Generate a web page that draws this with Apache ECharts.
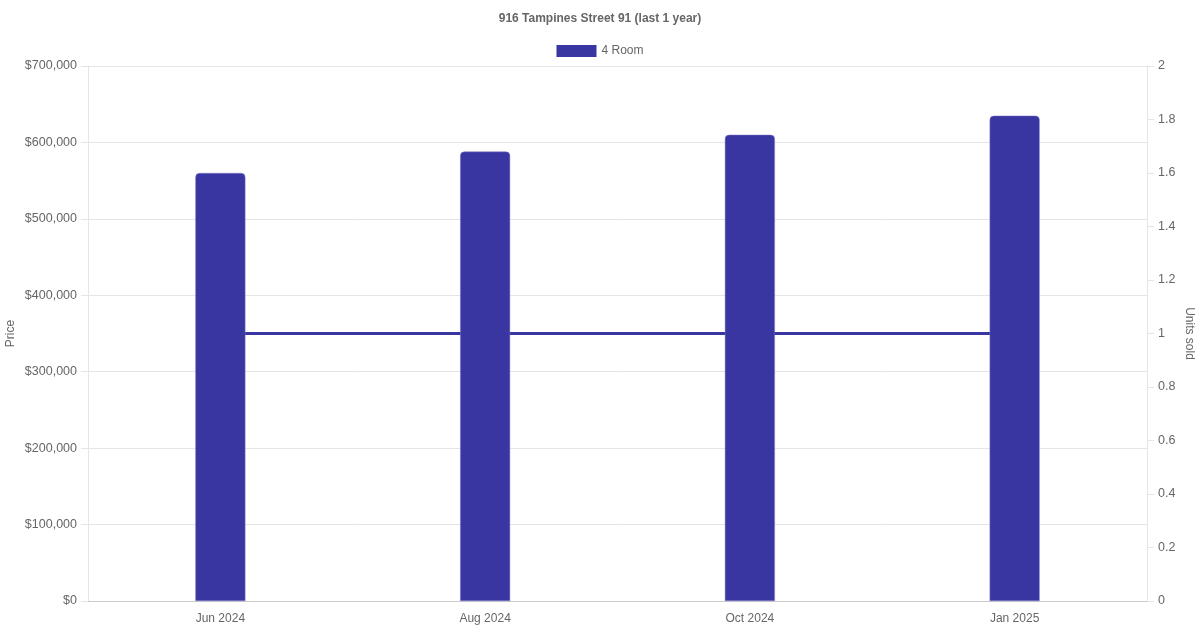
<!DOCTYPE html>
<html>
<head>
<meta charset="utf-8">
<script src="https://cdn.jsdelivr.net/npm/echarts@6/dist/echarts.min.js"></script>
<style>
  html, body { margin: 0; padding: 0; background: #fff; }
  #chart { width: 1200px; height: 630px; }
</style>
</head>
<body>
<div id="chart"></div>
<script>
const months = ['Jun 2024', 'Aug 2024', 'Oct 2024', 'Jan 2025']
const prices = [560000, 588000, 610000, 635000]
const unitsSold = [1, 1, 1, 1]

const barColor = '#3935a1'
const textColor = '#666'
const gridColor = '#e5e5e5'

const chart = echarts.init(document.getElementById('chart'))

const option = {
  animation: false,
  textStyle: { fontFamily: 'Liberation Sans, Arial, sans-serif' },
  title: {
    text: '916 Tampines Street 91 (last 1 year)',
    left: 'center',
    top: 8,
    textStyle: { fontSize: 12, fontWeight: 'bold', color: textColor },
  },
  legend: {
    top: 40,
    left: 'center',
    data: ['4 Room'],
    icon: 'rect',
    itemWidth: 40,
    itemHeight: 12,
    itemGap: 6,
    itemStyle: { borderWidth: 0 },
    textStyle: { fontSize: 12, color: textColor },
  },
  grid: { left: 88, right: 53, top: 66, bottom: 29, outerBoundsMode: 'none' },
  xAxis: {
    type: 'category',
    data: months,
    axisLine: { lineStyle: { color: '#ccc' } },
    axisTick: { show: false },
    axisLabel: { color: textColor, fontSize: 12, margin: 12 },
  },
  yAxis: [
    {
      type: 'value',
      min: 0,
      max: 700000,
      interval: 100000,
      name: 'Price',
      nameLocation: 'middle',
      nameGap: 71,
      nameMoveOverlap: false,
      nameTextStyle: { color: textColor, fontSize: 12 },
      axisLine: { show: true, lineStyle: { color: gridColor } },
      axisTick: { show: true, length: 7, lineStyle: { color: gridColor } },
      axisLabel: {
        color: textColor,
        fontSize: 12.5,
        margin: 11,
        formatter: (v) => '$' + v.toLocaleString('en-US'),
      },
      splitLine: { lineStyle: { color: gridColor } },
    },
    {
      type: 'value',
      min: 0,
      max: 2,
      interval: 0.2,
      name: 'Units sold',
      nameLocation: 'middle',
      nameGap: 36,
      nameRotate: -90,
      nameMoveOverlap: false,
      nameTextStyle: { color: textColor, fontSize: 12 },
      axisLine: { show: true, lineStyle: { color: gridColor } },
      axisTick: { show: true, length: 7, lineStyle: { color: gridColor } },
      axisLabel: {
        color: textColor,
        fontSize: 12.5,
        margin: 11,
        formatter: (v) => String(Math.round(v * 10) / 10),
      },
      splitLine: { show: false },
    },
  ],
  series: [
    {
      name: '4 Room',
      type: 'bar',
      yAxisIndex: 0,
      data: prices,
      barWidth: 50,
      z: 3,
      itemStyle: {
        color: barColor,
        borderColor: '#7d7ac6',
        borderWidth: 0.5,
        borderRadius: [4, 4, 0, 0],
      },
    },
    {
      name: '4 Room units',
      type: 'line',
      yAxisIndex: 1,
      data: unitsSold,
      symbol: 'none',
      z: 1,
      lineStyle: { color: barColor, width: 3 },
      itemStyle: { color: barColor },
    },
  ],
}

option && chart.setOption(option)
</script>
</body>
</html>
